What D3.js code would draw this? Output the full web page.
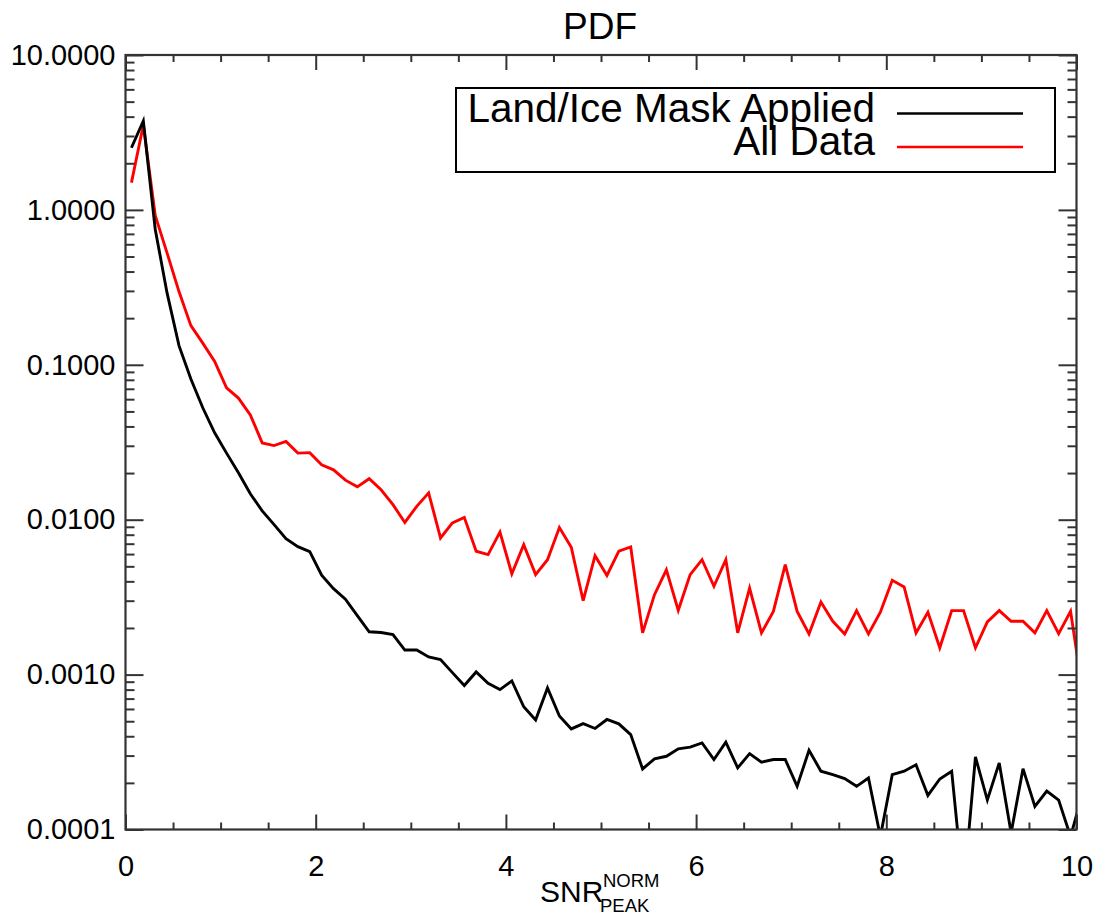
<!DOCTYPE html>
<html>
<head>
<meta charset="utf-8">
<script src="https://cdn.jsdelivr.net/npm/d3@7"></script>
<style>
  html, body { margin: 0; padding: 0; background: #fff; }
  svg { display: block; font-family: "Liberation Sans", Arial, Helvetica, sans-serif; }
</style>
</head>
<body>
<svg id="chart" width="1099" height="920"></svg>
<script>
// ---- Data ----
const binCenters = [0.0625,0.1875,0.3125,0.4375,0.5625,0.6875,0.8125,0.9375,1.0625,1.1875,
  1.3125,1.4375,1.5625,1.6875,1.8125,1.9375,2.0625,2.1875,2.3125,2.4375,
  2.5625,2.6875,2.8125,2.9375,3.0625,3.1875,3.3125,3.4375,3.5625,3.6875,
  3.8125,3.9375,4.0625,4.1875,4.3125,4.4375,4.5625,4.6875,4.8125,4.9375,
  5.0625,5.1875,5.3125,5.4375,5.5625,5.6875,5.8125,5.9375,6.0625,6.1875,
  6.3125,6.4375,6.5625,6.6875,6.8125,6.9375,7.0625,7.1875,7.3125,7.4375,
  7.5625,7.6875,7.8125,7.9375,8.0625,8.1875,8.3125,8.4375,8.5625,8.6875,
  8.8125,8.9375,9.0625,9.1875,9.3125,9.4375,9.5625,9.6875,9.8125,9.9375,10.0625];

const maskApplied = [2.52,3.75,0.75,0.29,0.133,0.081,0.0528,0.0364,0.0269,0.0201,
  0.0147,0.0114,0.0093,0.00754,0.0067,0.00622,0.00438,0.00359,0.00307,0.0024,
  0.00189,0.00187,0.00181,0.00144,0.00144,0.0013,0.00125,0.00103,0.00085,0.00104,
  0.00088,0.0008,0.00091,0.00062,0.00051,0.00082,0.00054,0.000446,0.000483,0.000449,
  0.000513,0.000481,0.00041,0.000246,0.000286,0.000297,0.000332,0.00034,0.000362,0.000283,
  0.000366,0.00025,0.000309,0.000272,0.000283,0.000283,0.00019,0.000325,0.000238,0.000226,
  0.000213,0.00019,0.000215,0.00009,0.000226,0.000238,0.000262,0.000166,0.000212,0.000238,
  0.00004,0.000294,0.000155,0.000269,0.000095,0.000247,0.000141,0.000177,0.000155,0.00009,
  0.00017];

const allData = [1.50,3.53,0.92,0.526,0.297,0.179,0.138,0.105,0.071,0.061,
  0.0475,0.0313,0.0301,0.032,0.0269,0.0271,0.0226,0.0210,0.0180,0.0163,
  0.0184,0.0156,0.0125,0.0096,0.0122,0.0149,0.00762,0.00953,0.01035,0.00626,
  0.00595,0.00832,0.00447,0.0069,0.00442,0.00552,0.0089,0.00664,0.0030,0.00586,
  0.00437,0.00626,0.00667,0.00186,0.00328,0.00475,0.0026,0.00442,0.00552,0.00372,
  0.00552,0.00186,0.00362,0.00186,0.00256,0.00513,0.00256,0.00183,0.00294,0.00221,
  0.00183,0.00259,0.00183,0.00253,0.00406,0.00368,0.00186,0.00253,0.00149,0.00259,
  0.00259,0.00149,0.00219,0.00259,0.00221,0.00221,0.00186,0.00259,0.00184,0.00256,
  0.00079];

const seriesNames = ["Land/Ice Mask Applied", "All Data"];
const seriesColors = ["#000000", "#ff0000"];
const xMajorTicks = [0, 2, 4, 6, 8, 10];
const xMinorTicks = [0.5,1,1.5,2.5,3,3.5,4.5,5,5.5,6.5,7,7.5,8.5,9,9.5];
const yMajorTicks = [10, 1, 0.1, 0.01, 0.001, 0.0001];
const yTickLabels = ["10.0000", "1.0000", "0.1000", "0.0100", "0.0010", "0.0001"];
const titleText = "PDF";

// ---- Layout ----
const L = 125.5, R = 1076.5, T = 55, B = 829.5;
const axisColor = "#333333";
const svg = d3.select("#chart");

const x = d3.scaleLinear().domain([0, 10]).range([L, R]);
const y = d3.scaleLog().domain([0.0001, 10]).range([B, T]);

// minor y ticks (2..9 per decade)
const yMinor = [];
[0.0001, 0.001, 0.01, 0.1, 1].forEach(d => { for (let k = 2; k <= 9; k++) yMinor.push(d * k); });

// clip
svg.append("defs").append("clipPath").attr("id", "plotclip")
  .append("rect").attr("x", L).attr("y", T).attr("width", R - L).attr("height", B - T);

// series lines
const line = d3.line().x((d, i) => x(binCenters[i])).y(d => y(d));
const seriesData = [maskApplied, allData];
[1, 0].forEach(s => {
  svg.append("path")
    .attr("clip-path", "url(#plotclip)")
    .attr("d", line(seriesData[s]))
    .attr("fill", "none")
    .attr("stroke", seriesColors[s])
    .attr("stroke-width", 2.9)
    .attr("stroke-linejoin", "miter");
});

// axes with inward ticks
const g = svg.append("g");
const tickW = 2;
const xAxisB = d3.axisBottom(x).tickValues(xMajorTicks).tickSize(-15).tickFormat(d3.format("d")).tickPadding(26);
const xAxisBminor = d3.axisBottom(x).tickValues(xMinorTicks).tickSize(-7).tickFormat("");
const xAxisT = d3.axisTop(x).tickValues(xMajorTicks).tickSize(-15).tickFormat("");
const xAxisTminor = d3.axisTop(x).tickValues(xMinorTicks).tickSize(-7).tickFormat("");
const yAxisL = d3.axisLeft(y).tickValues(yMajorTicks).tickSize(-18).tickPadding(10)
  .tickFormat((d, i) => yTickLabels[i]);
const yAxisLminor = d3.axisLeft(y).tickValues(yMinor).tickSize(-9).tickFormat("");
const yAxisR = d3.axisRight(y).tickValues(yMajorTicks).tickSize(-18).tickFormat("");
const yAxisRminor = d3.axisRight(y).tickValues(yMinor).tickSize(-9).tickFormat("");

function styleAxis(sel) {
  sel.select(".domain").remove();
  sel.selectAll(".tick line").attr("stroke", axisColor).attr("stroke-width", tickW);
  sel.selectAll(".tick text").attr("fill", "#000").attr("font-size", 29)
    .attr("font-family", "'Liberation Sans', Arial, sans-serif");
}
g.append("g").attr("transform", `translate(0,${B})`).call(xAxisB).call(styleAxis);
g.append("g").attr("transform", `translate(0,${B})`).call(xAxisBminor).call(styleAxis);
g.append("g").attr("transform", `translate(0,${T})`).call(xAxisT).call(styleAxis);
g.append("g").attr("transform", `translate(0,${T})`).call(xAxisTminor).call(styleAxis);
g.append("g").attr("transform", `translate(${L},0)`).call(yAxisL).call(styleAxis);
g.append("g").attr("transform", `translate(${L},0)`).call(yAxisLminor).call(styleAxis);
g.append("g").attr("transform", `translate(${R},0)`).call(yAxisR).call(styleAxis);
g.append("g").attr("transform", `translate(${R},0)`).call(yAxisRminor).call(styleAxis);

// frame
svg.append("rect").attr("x", L).attr("y", T).attr("width", R - L).attr("height", B - T)
  .attr("fill", "none").attr("stroke", axisColor).attr("stroke-width", 2.2);

// title
svg.append("text").attr("x", 600).attr("y", 39).attr("text-anchor", "middle")
  .attr("font-size", 37).attr("fill", "#000").text(titleText);

// x axis title: SNR with super/subscripts
const xt = svg.append("g");
xt.append("text").attr("x", 540).attr("y", 902).attr("font-size", 30).attr("fill", "#000").text("SNR");
xt.append("text").attr("x", 603).attr("y", 887).attr("font-size", 18.5).attr("fill", "#000").text("NORM");
xt.append("text").attr("x", 600).attr("y", 912).attr("font-size", 18.5).attr("fill", "#000").text("PEAK");

// legend (both entries as one multi-line text block)
const lg = svg.append("g");
lg.append("rect").attr("x", 456).attr("y", 88).attr("width", 599).attr("height", 84)
  .attr("fill", "#fff").attr("stroke", "#000").attr("stroke-width", 2);
const legY = [[122, 113.5], [155, 147]];
const legText = lg.append("text").attr("text-anchor", "end").attr("font-size", 40.5).attr("fill", "#000");
seriesNames.forEach((name, i) => {
  legText.append("tspan").attr("x", 875).attr("y", legY[i][0]).text(name);
  lg.append("line").attr("x1", 897).attr("x2", 1023).attr("y1", legY[i][1]).attr("y2", legY[i][1])
    .attr("stroke", seriesColors[i]).attr("stroke-width", 2.6);
});
</script>
</body>
</html>
